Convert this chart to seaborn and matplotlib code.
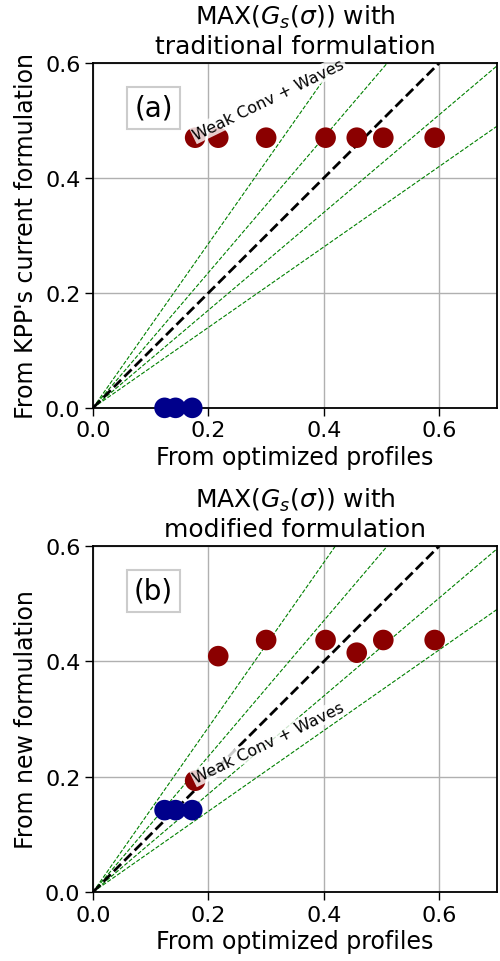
import numpy as np
import pandas as pd
import matplotlib
matplotlib.use("Agg")
import matplotlib.pyplot as plt
import seaborn as sns

# values
opt_red = [0.177, 0.217, 0.300, 0.403, 0.457, 0.503, 0.592]
kpp_red = [0.47, 0.47, 0.47, 0.47, 0.47, 0.47, 0.47]
new_red = [0.193, 0.409, 0.437, 0.437, 0.415, 0.437, 0.437]
opt_blue = [0.124, 0.143, 0.172]
kpp_blue = [0.0, 0.0, 0.0]
new_blue = [0.142, 0.142, 0.142]
slopes = [1 / 0.7, 1 / 0.85, 0.85, 0.7]

titles = ["MAX($G_s(\\sigma)$) with\ntraditional formulation",
          "MAX($G_s(\\sigma)$) with\nmodified formulation"]
ylabels = ["From KPP's current formulation", "From new formulation"]
panel_tags = ["(a)", "(b)"]

sns.set_style("ticks", {"axes.grid": True, "grid.color": "#b0b0b0",
                        "axes.edgecolor": "black", "text.color": "black",
                        "axes.labelcolor": "black", "xtick.color": "black",
                        "ytick.color": "black"})
plt.rcParams["font.family"] = ["DejaVu Sans"]

fig = plt.figure(figsize=(5, 9.62), dpi=100)
ax1 = fig.add_axes([0.186, 0.575, 0.808, 0.3585])
ax2 = fig.add_axes([0.186, 0.0717, 0.808, 0.3597])

for i, (ax, yr, yb) in enumerate([(ax1, kpp_red, kpp_blue), (ax2, new_red, new_blue)]):
    xs = np.array([0, 0.7])
    for s in slopes:
        ax.plot(xs, s * xs, color="green", ls="--", lw=0.8, zorder=2)
    ax.plot([0, 0.6], [0, 0.6], color="black", ls="--", lw=2, zorder=2)

    df_r = pd.DataFrame({"x": opt_red, "y": yr})
    df_b = pd.DataFrame({"x": opt_blue, "y": yb})
    sns.scatterplot(data=df_r, x="x", y="y", ax=ax, color="#8b0000", s=220,
                    edgecolor="none", zorder=3, clip_on=False)
    sns.scatterplot(data=df_b, x="x", y="y", ax=ax, color="#00008b", s=220,
                    edgecolor="none", zorder=3, clip_on=False)

    ax.text(opt_red[0] + 0.004, yr[0] - 0.008, "Weak Conv + Waves", fontsize=11.5,
            rotation=26, rotation_mode="anchor", ha="left", va="bottom", zorder=4,
            color="black",
            bbox=dict(facecolor="white", edgecolor="none", alpha=0.8, pad=1))
    ax.text(0.15, 0.87, panel_tags[i], transform=ax.transAxes, fontsize=20,
            ha="center", va="center", color="black",
            bbox=dict(facecolor="white", edgecolor="#cccccc", lw=1.5, pad=5))

    ax.set_xlim(0, 0.7)
    ax.set_ylim(0, 0.6)
    ax.set_xticks([0, 0.2, 0.4, 0.6])
    ax.set_yticks([0, 0.2, 0.4, 0.6])
    ax.tick_params(labelsize=16, direction="out", length=6, width=1, color="black", pad=3)
    ax.set_xlabel("From optimized profiles", fontsize=17, labelpad=3)
    ax.set_ylabel(ylabels[i], fontsize=17, labelpad=5)
    ax.set_title(titles[i], fontsize=18, pad=7)
    for sp in ax.spines.values():
        sp.set_visible(True)
        sp.set_color("black")
        sp.set_linewidth(1.3)
    ax.grid(True, lw=1)

fig.savefig("out.png", dpi=100)
